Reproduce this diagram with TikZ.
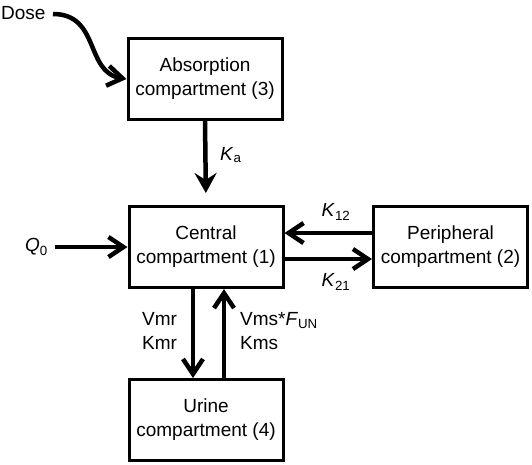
\documentclass[tikz,border=0pt]{standalone}
\usepackage{fontspec}
\setmainfont{Liberation Sans}
\usetikzlibrary{arrows.meta}
\begin{document}
\begin{tikzpicture}[x=1pt,y=-1pt,
  comp/.style={draw,line width=3pt,minimum width=154pt,minimum height=81pt,align=center,inner sep=0pt,
    font=\fontsize{19}{24}\selectfont},
  lbl/.style={inner sep=0pt,font=\fontsize{19}{24}\selectfont},
  flow/.style={line width=4.5pt,-{Straight Barb[length=15pt,width=20pt]}},
  flowk/.style={line width=4.5pt,-{Stealth[length=20pt,width=22pt,inset=7pt]}}]
\useasboundingbox (0,0) rectangle (532,464);
\node[comp] (abs) at (205,79) {Absorption\\compartment (3)};
\node[comp] (cen) at (206,247) {Central\\compartment (1)};
\node[comp] (per) at (450.5,247) {Peripheral\\compartment (2)};
\node[comp] (uri) at (206,420) {Urine\\compartment (4)};
\coordinate (dose0) at (53,14);
\coordinate (q0) at (55,247);
\node[lbl,anchor=west] (doselbl) at (1,13) {Dose};
\node[lbl,anchor=east] (qlbl) at (48,247) {\textit{Q}\textsubscript{0}};
\draw[flow] (dose0) .. controls (100,14) and (85,72) .. ([yshift=0pt]abs.west);
\draw[flow] (q0) -- (cen.west);
\draw[flowk,shorten >=12pt] (abs.south) -- (cen.north);
\draw[flow] ([yshift=14pt]per.west) -- ([yshift=14pt]cen.east);
\draw[flow] ([yshift=-12pt]cen.east) -- ([yshift=-12pt]per.west);
\draw[flow] ([xshift=-13pt]cen.south) -- ([xshift=-13pt]uri.north);
\draw[flow] ([xshift=18pt]uri.north) -- ([xshift=18pt]cen.south);
\node[lbl,anchor=west] (ka) at (220,155) {\textit{K}\textsubscript{a}};
\node[lbl] (k12) at (336,212) {\textit{K}\textsubscript{12}};
\node[lbl] (k21) at (336,282) {\textit{K}\textsubscript{21}};
\node[lbl,anchor=west,align=left] (vmr) at (142,331) {Vmr\\Kmr};
\node[lbl,anchor=west,align=left] (vms) at (240,331) {Vms*\textit{F}\textsubscript{UN}\\Kms};
\end{tikzpicture}
\end{document}
